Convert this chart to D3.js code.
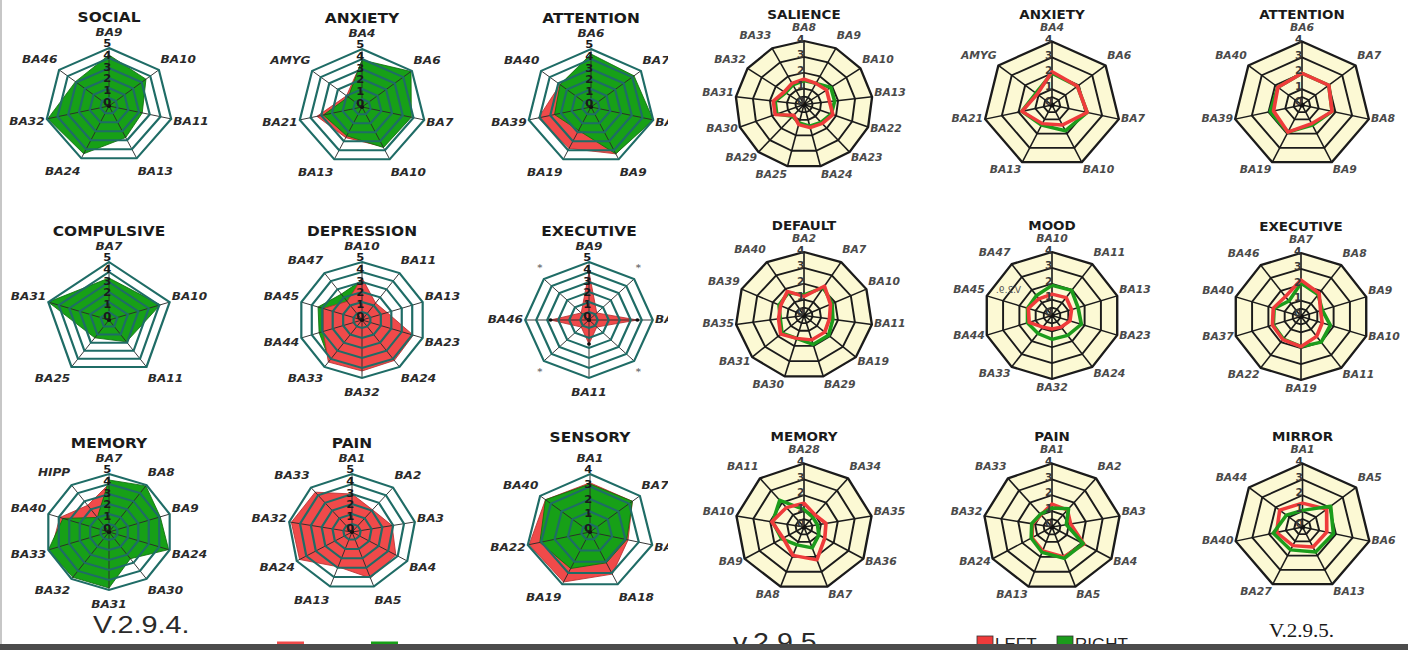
<!DOCTYPE html>
<html>
<head>
<meta charset="utf-8">
<script src="https://cdn.jsdelivr.net/npm/d3@7"></script>
<style>
  html, body { margin: 0; padding: 0; background: #ffffff; }
  svg { display: block; }
</style>
</head>
<body>
<svg id="chart" width="1408" height="650"></svg>
<script>
// ---------- v2.9.4 panel: filled radars ----------
const oldTitles = ["SOCIAL", "ANXIETY", "ATTENTION", "COMPULSIVE", "DEPRESSION", "EXECUTIVE", "MEMORY", "PAIN", "SENSORY"];
const oldAxes = [
  ["BA9", "BA10", "BA11", "BA13", "BA24", "BA32", "BA46"],
  ["BA4", "BA6", "BA7", "BA10", "BA13", "BA21", "AMYG"],
  ["BA6", "BA7", "BA8", "BA9", "BA19", "BA39", "BA40"],
  ["BA7", "BA10", "BA11", "BA25", "BA31"],
  ["BA10", "BA11", "BA13", "BA23", "BA24", "BA32", "BA33", "BA44", "BA45", "BA47"],
  ["BA9", "*", "BA10", "*", "BA11", "*", "BA46", "*"],
  ["BA7", "BA8", "BA9", "BA24", "BA30", "BA31", "BA32", "BA33", "BA40", "HIPP"],
  ["BA1", "BA2", "BA3", "BA4", "BA5", "BA13", "BA24", "BA32", "BA33"],
  ["BA1", "BA7", "BA17", "BA18", "BA19", "BA22", "BA40"]
];
const oldLeftValues = [
  [3.9, 3.1, 2.0, 2.5, 4.2, 4.6, 2.8],
  [3.8, 4.8, 3.7, 3.6, 2.6, 3.4, 1.0],
  [4.3, 4.0, 4.8, 4.4, 3.8, 4.1, 2.8],
  [3.0, 3.8, 1.7, 1.2, 4.7],
  [3.4, 1.3, 1.6, 4.1, 4.2, 4.3, 4.4, 2.9, 2.9, 1.5],
  [4.0, 0.2, 3.6, 0.2, 1.6, 0.2, 2.7, 0.2],
  [4.0, 4.5, 3.8, 4.5, 2.3, 4.5, 4.5, 4.7, 3.9, 2.5],
  [3.0, 2.1, 2.9, 3.8, 4.1, 2.9, 4.7, 4.8, 4.4],
  [3.3, 3.3, 2.2, 3.1, 3.8, 3.9, 3.5]
];
const oldRightValues = [
  [4.3, 3.5, 2.3, 2.7, 4.5, 4.9, 3.1],
  [3.9, 4.9, 3.8, 3.7, 2.4, 2.8, 0.8],
  [4.5, 4.2, 5.0, 4.4, 1.8, 2.6, 2.8],
  [3.4, 4.1, 1.9, 1.4, 5.0],
  [3.2, 1.2, 1.5, 3.8, 4.0, 4.1, 4.2, 3.3, 3.4, 2.4],
  [0, 0, 0, 0, 0, 0, 0, 0],
  [4.4, 4.9, 4.1, 4.9, 2.5, 4.8, 4.8, 5.0, 3.6, 1.0],
  [2.5, 1.8, 2.5, 3.3, 3.6, 2.5, 4.0, 4.2, 3.8],
  [3.2, 3.3, 2.1, 2.1, 2.6, 3.1, 3.5]
];
const oldScaleMax = [5, 5, 5, 5, 5, 5, 5, 5, 4];
const oldTopSeries = ["RIGHT", "RIGHT", "RIGHT", "RIGHT", "LEFT", "LEFT", "RIGHT", "LEFT", "RIGHT"];

// ---------- v2.9.5 panel: line radars ----------
const newTitles = ["SALIENCE", "ANXIETY", "ATTENTION", "DEFAULT", "MOOD", "EXECUTIVE", "MEMORY", "PAIN", "MIRROR"];
const newAxes = [
  ["BA8", "BA9", "BA10", "BA13", "BA22", "BA23", "BA24", "BA25", "BA29", "BA30", "BA31", "BA32", "BA33"],
  ["BA4", "BA6", "BA7", "BA10", "BA13", "BA21", "AMYG"],
  ["BA6", "BA7", "BA8", "BA9", "BA19", "BA39", "BA40"],
  ["BA2", "BA7", "BA10", "BA11", "BA19", "BA29", "BA30", "BA31", "BA35", "BA39", "BA40"],
  ["BA10", "BA11", "BA13", "BA23", "BA24", "BA32", "BA33", "BA44", "BA45", "BA47"],
  ["BA7", "BA8", "BA9", "BA10", "BA11", "BA19", "BA22", "BA37", "BA40", "BA46"],
  ["BA28", "BA34", "BA35", "BA36", "BA7", "BA8", "BA9", "BA10", "BA11"],
  ["BA1", "BA2", "BA3", "BA4", "BA5", "BA13", "BA24", "BA32", "BA33"],
  ["BA1", "BA5", "BA6", "BA13", "BA27", "BA40", "BA44"]
];
const newLeftValues = [
  [1.6, 1.5, 1.6, 1.5, 1.8, 1.6, 1.5, 1.3, 0.9, 1.8, 1.8, 1.4, 1.5],
  [2.1, 1.9, 2.1, 1.4, 1.3, 1.8, 1.1],
  [2.0, 2.0, 1.8, 1.3, 1.9, 1.7, 1.8],
  [1.2, 2.2, 1.7, 1.5, 1.6, 1.6, 1.5, 1.8, 1.5, 1.5, 1.8],
  [1.35, 1.4, 1.2, 1.1, 0.9, 0.85, 0.9, 1.4, 1.45, 1.3],
  [2.3, 1.8, 1.2, 1.3, 1.55, 1.9, 1.8, 1.75, 1.7, 1.55],
  [1.5, 1.0, 1.3, 1.4, 2.2, 1.9, 1.4, 1.9, 1.6],
  [1.45, 1.4, 1.1, 2.15, 2.0, 1.6, 1.35, 1.15, 1.0],
  [1.5, 1.8, 1.45, 1.4, 1.3, 1.55, 1.7]
];
const newRightValues = [
  [1.5, 1.5, 1.9, 1.8, 1.7, 1.5, 1.4, 1.2, 1.0, 1.7, 1.7, 1.3, 1.4],
  [2.0, 1.9, 2.1, 1.8, 1.4, 1.8, 1.2],
  [2.0, 2.0, 1.8, 1.4, 1.9, 1.9, 1.8],
  [1.3, 2.1, 1.8, 1.7, 1.9, 1.9, 1.5, 1.7, 1.4, 1.6, 1.7],
  [1.9, 1.95, 1.6, 1.8, 1.55, 1.5, 1.4, 1.5, 1.5, 1.55],
  [2.1, 1.7, 1.3, 1.8, 2.0, 1.9, 1.75, 1.7, 1.65, 1.2],
  [1.1, 0.8, 0.8, 1.0, 1.4, 1.2, 1.5, 1.85, 2.2],
  [1.2, 1.5, 0.85, 2.1, 2.1, 1.7, 1.4, 1.2, 1.05],
  [1.05, 2.1, 1.85, 1.75, 1.6, 1.75, 1.2]
];
const newScaleMax = 4;
const newTopSeries = ["LEFT", "LEFT", "LEFT", "LEFT", "LEFT", "LEFT", "LEFT", "RIGHT", "RIGHT"];

const seriesNames = ["LEFT", "RIGHT"];
const versionLabels = ["V.2.9.4.", "v.2.9.5", "V.2.9.5."];

// ---------- layout ----------
const W = 1408, H = 650;
const oldCenters = [[109, 106], [362, 107], [591, 107], [109, 320], [362, 320], [589, 320], [109, 532], [352, 532], [590, 532]];
const oldTitleLift = [84.5, 84, 84, 84, 84, 84, 84, 84, 90];
const newCenters = [[804, 104.5], [1052, 105], [1302, 105], [804, 315.5], [1052, 315.5], [1301, 316.5], [804, 527], [1052, 527], [1302.5, 527]];

const colors = {
  oldFill: { LEFT: "#f04a4a", RIGHT: "#17a017" },
  oldEdge: { LEFT: "#b92e2e", RIGHT: "#0d6b0d" },
  line: { LEFT: "#ef3b3b", RIGHT: "#1c9c1c" },
  teal: "#1f6c66",
  cream: "#fcf9d4"
};

const svg = d3.select("#chart");
const defs = svg.append("defs");
defs.append("clipPath").attr("id", "oldClip")
  .append("rect").attr("x", 0).attr("y", 0).attr("width", 668).attr("height", H);

svg.append("rect").attr("width", W).attr("height", H).attr("fill", "#ffffff");

const oldPanel = svg.append("g").attr("clip-path", "url(#oldClip)");
const newPanel = svg.append("g");

function anchorFor(s) { return s > 0.2 ? "start" : (s < -0.2 ? "end" : "middle"); }

// Draws one filled radar of the older layout.
function drawOld(i) {
  const axes = oldAxes[i], n = axes.length, max = oldScaleMax[i];
  const [cx, cy] = oldCenters[i];
  const R = 58;
  const r = d3.scaleLinear().domain([0, max]).range([8, R]);
  const tickPos = d3.scaleLinear().domain([0, max]).range([4, R + 5]);
  const ang = d3.scaleLinear().domain([0, n]).range([0, 2 * Math.PI]);
  const g = oldPanel.append("g").attr("transform", `translate(${cx},${cy}) scale(1.1,1)`);

  const ringPath = d3.lineRadial().angle((d, k) => ang(k)).radius(d => d).curve(d3.curveLinearClosed);
  const shape = d3.lineRadial().angle((d, k) => ang(k)).radius(d => r(d)).curve(d3.curveLinearClosed);

  const vals = { LEFT: oldLeftValues[i], RIGHT: oldRightValues[i] };
  const order = oldTopSeries[i] === "LEFT" ? ["RIGHT", "LEFT"] : ["LEFT", "RIGHT"];
  order.forEach(s => {
    g.append("path").attr("d", shape(vals[s]))
      .attr("fill", colors.oldFill[s]).attr("stroke", colors.oldEdge[s]).attr("stroke-width", 0.8)
      .attr("stroke-linejoin", "round");
  });

  // spokes
  g.selectAll(null).data(axes).enter().append("line")
    .attr("x1", 0).attr("y1", 0)
    .attr("x2", (d, k) => R * Math.sin(ang(k)))
    .attr("y2", (d, k) => -R * Math.cos(ang(k)))
    .attr("stroke", "#2b2b2b").attr("stroke-width", 0.9);

  // rings
  d3.range(0, max + 1).forEach(l => {
    g.append("path").attr("d", ringPath(axes.map(() => r(l))))
      .attr("fill", "none").attr("stroke", colors.teal).attr("stroke-width", 2);
  });

  g.append("circle").attr("r", 2).attr("fill", "#111");

  if (axes.includes("*")) {
    // vertex markers on the main axes of the star chart
    vals.LEFT.forEach((v, k) => {
      if (v < 1) return;
      g.append("circle").attr("cx", r(v) * Math.sin(ang(k))).attr("cy", -r(v) * Math.cos(ang(k)))
        .attr("r", 1.8).attr("fill", "#111");
    });
  }

  // tick labels
  g.selectAll(null).data(d3.range(0, max + 1)).enter().append("text")
    .attr("x", -1.5).attr("y", d => -tickPos(d) + 4)
    .attr("text-anchor", "middle")
    .attr("font-family", "DejaVu Sans, sans-serif").attr("font-size", 10.5).attr("font-weight", "bold")
    .attr("fill", "#1a1a1a").text(d => d);

  // axis labels
  axes.forEach((a, k) => {
    const t = ang(k), s = Math.sin(t), c = Math.cos(t);
    const lx = (R + 2) * s, ly = -(R + 8) * c;
    g.append("text").attr("x", lx).attr("y", ly + 3 - 7 * c)
      .attr("text-anchor", anchorFor(s))
      .attr("font-family", "DejaVu Sans, sans-serif").attr("font-size", a === "*" ? 9 : 11)
      .attr("font-weight", "bold").attr("font-style", "italic")
      .attr("fill", a === "*" ? "#777" : "#2a2a2a").text(a);
  });

  g.append("text").attr("x", 0).attr("y", -oldTitleLift[i])
    .attr("text-anchor", "middle")
    .attr("font-family", "DejaVu Sans, sans-serif").attr("font-size", 14).attr("font-weight", "bold")
    .attr("fill", "#1a1a1a").text(oldTitles[i]);
}

// Draws one line radar of the newer layout.
function drawNew(i) {
  const axes = newAxes[i], n = axes.length;
  const [cx, cy] = newCenters[i];
  const R = 63.5;
  const r = d3.scaleLinear().domain([0, newScaleMax]).range([0, R]);
  const tickPos = d3.scaleLinear().domain([0, newScaleMax]).range([4, R + 2.5]);
  const ang = d3.scaleLinear().domain([0, n]).range([0, 2 * Math.PI]);
  const g = newPanel.append("g").attr("transform", `translate(${cx},${cy}) scale(1.08,1)`);

  const ringPath = d3.lineRadial().angle((d, k) => ang(k)).radius(d => d).curve(d3.curveLinearClosed);
  const shape = d3.lineRadial().angle((d, k) => ang(k)).radius(d => r(d)).curve(d3.curveLinearClosed);

  g.append("path").attr("d", ringPath(axes.map(() => R))).attr("fill", colors.cream);

  g.selectAll(null).data(axes).enter().append("line")
    .attr("x1", 0).attr("y1", 0)
    .attr("x2", (d, k) => R * Math.sin(ang(k)))
    .attr("y2", (d, k) => -R * Math.cos(ang(k)))
    .attr("stroke", "#1b1b1b").attr("stroke-width", 1.5);

  [0.5, 1, 2, 3, 4].forEach(l => {
    g.append("path").attr("d", ringPath(axes.map(() => r(l))))
      .attr("fill", "none").attr("stroke", "#1b1b1b").attr("stroke-width", l === 4 ? 2.2 : 1.8)
      .attr("stroke-linejoin", "round");
  });

  g.append("circle").attr("r", 2.5).attr("fill", "#111");

  const vals = { LEFT: newLeftValues[i], RIGHT: newRightValues[i] };
  const order = newTopSeries[i] === "LEFT" ? ["RIGHT", "LEFT"] : ["LEFT", "RIGHT"];
  order.forEach(s => {
    g.append("path").attr("d", shape(vals[s]))
      .attr("fill", "none").attr("stroke", colors.line[s]).attr("stroke-width", 3.4)
      .attr("stroke-linejoin", "round");
  });

  g.selectAll(null).data(d3.range(0, newScaleMax + 1)).enter().append("text")
    .attr("x", -3).attr("y", d => -tickPos(d) + 4)
    .attr("text-anchor", "middle")
    .attr("font-family", "DejaVu Sans, sans-serif").attr("font-size", 10).attr("font-weight", "bold")
    .attr("fill", "#3a3a3a").text(d => d);

  axes.forEach((a, k) => {
    const t = ang(k), s = Math.sin(t), c = Math.cos(t);
    const lx = (R + 2) * s, ly = -(R + 5) * c;
    g.append("text").attr("x", lx).attr("y", ly + 0.7 - 6.2 * c)
      .attr("text-anchor", anchorFor(s))
      .attr("font-family", "DejaVu Sans, sans-serif").attr("font-size", 10)
      .attr("font-weight", "bold").attr("font-style", "italic")
      .attr("fill", "#4a4a4a").text(a);
  });

  g.append("text").attr("x", 0).attr("y", -86)
    .attr("text-anchor", "middle")
    .attr("font-family", "DejaVu Sans, sans-serif").attr("font-size", 12.5).attr("font-weight", "bold")
    .attr("fill", "#1a1a1a").text(newTitles[i]);
}

oldTitles.forEach((d, i) => drawOld(i));
newTitles.forEach((d, i) => drawNew(i));

// stray mirrored caption inside the MOOD chart
svg.append("text")
  .attr("transform", "translate(1021,293) scale(-1,1)")
  .attr("font-family", "DejaVu Sans, sans-serif").attr("font-size", 9)
  .attr("fill", "#555").text(versionLabels[2].slice(0, 6));

// ---------- captions and legends ----------
svg.append("text").attr("transform", "translate(93,633) scale(1.2,1)")
  .attr("font-family", "Liberation Sans, Arial, sans-serif").attr("font-size", 24)
  .attr("fill", "#2a2a2a").text(versionLabels[0]);

svg.append("text").attr("transform", "translate(733,651) scale(1.1,1)")
  .attr("font-family", "Liberation Sans, Arial, sans-serif").attr("font-size", 26)
  .attr("fill", "#2a2a2a").text(versionLabels[1]);

svg.append("text").attr("transform", "translate(1269,637) scale(1.08,1)")
  .attr("font-family", "Liberation Serif, Times New Roman, serif").attr("font-size", 19.5)
  .attr("fill", "#1a1a1a").text(versionLabels[2]);

const legendX = d3.scaleOrdinal().domain(seriesNames).range([977, 1057]);
seriesNames.forEach(s => {
  svg.append("rect").attr("x", legendX(s)).attr("y", 636).attr("width", 16).attr("height", 16)
    .attr("fill", colors.line[s]).attr("stroke", "#333").attr("stroke-width", 0.8);
  svg.append("text").attr("x", legendX(s) + 18).attr("y", 650)
    .attr("font-family", "Liberation Sans, Arial, sans-serif").attr("font-size", 17)
    .attr("fill", "#222").text(s);
});

const oldLegendX = d3.scaleOrdinal().domain(seriesNames).range([277, 371]);
seriesNames.forEach(s => {
  svg.append("rect").attr("x", oldLegendX(s)).attr("y", 641.5).attr("width", 27).attr("height", 12)
    .attr("fill", colors.oldFill[s]);
  svg.append("text").attr("x", oldLegendX(s) + 32).attr("y", 655)
    .attr("font-family", "Liberation Sans, Arial, sans-serif").attr("font-size", 15)
    .attr("fill", "#aaa").text(s);
});

// frame details
svg.append("line").attr("x1", 1).attr("y1", 0).attr("x2", 1).attr("y2", 644)
  .attr("stroke", "#b5b5b5").attr("stroke-width", 1.5);
svg.append("rect").attr("x", 0).attr("y", 644).attr("width", W).attr("height", H - 644)
  .attr("fill", "#4c4c4c");
</script>
</body>
</html>
